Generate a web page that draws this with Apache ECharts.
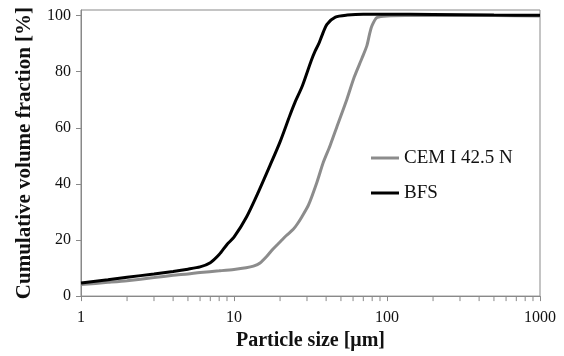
<!DOCTYPE html>
<html>
<head>
<meta charset="utf-8">
<script src="https://cdn.jsdelivr.net/npm/echarts@6/dist/echarts.min.js"></script>
<style>html,body{margin:0;padding:0;background:#fff;}#c{width:564px;height:356px;}</style>
</head>
<body>
<div id="c"></div>
<script>
// Particle size [µm] / cumulative volume fraction [%]
const cemSize = [1, 1.5, 2, 3, 4, 5, 6, 8, 10, 12, 13.4, 14.8, 16.4, 18, 20, 22, 24.4, 26, 27.8, 30.7, 34.8, 38.4, 42.5, 47, 54.7, 61, 68.6, 73.9, 76.9, 79.8, 86, 100, 200, 500, 1000];
const cemValue = [4.1, 4.9, 5.5, 6.6, 7.4, 7.9, 8.4, 9.0, 9.5, 10.1, 10.7, 11.8, 14.2, 16.8, 19.3, 21.6, 23.8, 25.8, 28.3, 32.5, 40.5, 47.8, 53.7, 60.3, 70.2, 78.0, 84.8, 89.3, 93.4, 96.4, 99.3, 99.9, 100.1, 100.0, 99.9];
const bfsSize = [1, 1.5, 2, 3, 4, 5, 6, 7, 8, 9, 10, 12.1, 14.4, 17.2, 20, 23.2, 25, 28, 32, 34, 35.7, 37.5, 40.5, 46, 55, 70, 100, 200, 500, 1000];
const bfsValue = [4.7, 5.8, 6.7, 7.9, 8.8, 9.6, 10.4, 11.9, 14.8, 18.4, 21.0, 28.3, 37.0, 46.6, 55.0, 64.5, 69.0, 75.0, 84.0, 87.5, 89.8, 92.8, 96.9, 99.5, 100.2, 100.5, 100.5, 100.4, 100.2, 100.1];
const seriesNames = ['CEM I 42.5 N', 'BFS'];
const yTickValues = [0, 20, 40, 60, 80, 100];
const xMinorTicks = [2, 3, 4, 5, 6, 7, 8, 9, 20, 30, 40, 50, 60, 70, 80, 90, 200, 300, 400, 500, 600, 700, 800, 900];

const zip = (a, b) => a.map((v, i) => [v, b[i]]);
const font = '"Liberation Serif", "Times New Roman", serif';
const axisGray = '#898989';

const chart = echarts.init(document.getElementById('c'), null, {renderer: 'canvas'});
chart.setOption({
  animation: false,
  backgroundColor: '#fff',
  grid: {left: 81, right: 24, top: 10, bottom: 58, show: true, borderColor: axisGray, borderWidth: 1},
  legend: {
    data: seriesNames,
    orient: 'vertical',
    left: 366, top: 143,
    icon: 'rect',
    itemWidth: 28, itemHeight: 3, itemGap: 15,
    textStyle: {fontFamily: font, fontSize: 19, color: '#111', lineHeight: 20}
  },
  xAxis: {
    type: 'log', logBase: 10, min: 1, max: 1000,
    name: 'Particle size [μm]', nameLocation: 'middle', nameGap: 33,
    nameTextStyle: {fontFamily: font, fontSize: 20, fontWeight: 'bold', color: '#111'},
    axisLine: {lineStyle: {color: axisGray, width: 1}},
    axisTick: {show: true, inside: false, length: 5, lineStyle: {color: axisGray}},
    axisLabel: {fontFamily: font, fontSize: 16, color: '#111', margin: 14, formatter: v => String(v)},
    splitLine: {show: false}
  },
  yAxis: {
    type: 'value', min: 0, max: 102, interval: 20,
    name: 'Cumulative volume fraction [%]', nameLocation: 'middle', nameGap: 46,
    nameTextStyle: {fontFamily: font, fontSize: 21, fontWeight: 'bold', color: '#111'},
    axisLine: {show: true, lineStyle: {color: axisGray, width: 1}},
    axisTick: {show: true, inside: false, length: 5, lineStyle: {color: axisGray}, customValues: yTickValues},
    axisLabel: {fontFamily: font, fontSize: 16, color: '#111', margin: 10, customValues: yTickValues,
      formatter: v => (v % 20 === 0 ? String(v) : '')},
    splitLine: {show: false}
  },
  series: [
    {
      name: seriesNames[0], type: 'line', data: zip(cemSize, cemValue),
      showSymbol: false, symbol: 'none', smooth: 0.25,
      lineStyle: {color: '#8c8c8c', width: 3}, itemStyle: {color: '#8c8c8c'}, z: 3
    },
    {
      name: seriesNames[1], type: 'line', data: zip(bfsSize, bfsValue),
      showSymbol: false, symbol: 'none', smooth: 0.25,
      lineStyle: {color: '#000', width: 3}, itemStyle: {color: '#000'}, z: 4
    },
    {
      type: 'custom', silent: true, clip: false,
      data: xMinorTicks.map(v => [v, 0]),
      renderItem: (params, api) => {
        const p = api.coord([api.value(0), 0]);
        return {type: 'line', shape: {x1: p[0], y1: p[1], x2: p[0], y2: p[1] + 5},
          style: {stroke: axisGray, lineWidth: 1}};
      },
      z: 1
    }
  ]
});
</script>
</body>
</html>
